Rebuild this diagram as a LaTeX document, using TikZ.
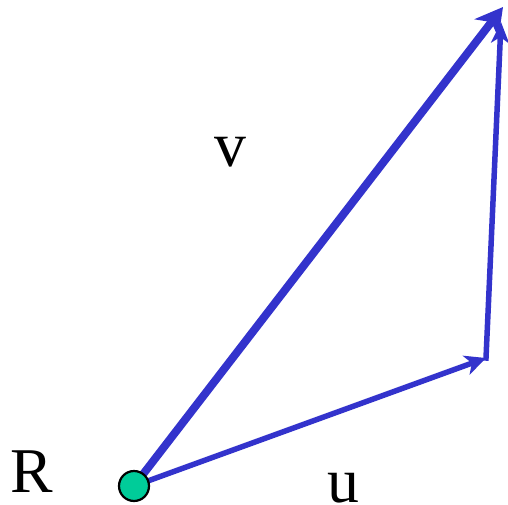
\documentclass[tikz,border=0pt]{standalone}
\usepackage{fontspec}
\setmainfont{Liberation Serif}
\usetikzlibrary{arrows.meta}
\definecolor{vecblue}{HTML}{3333CC}
\definecolor{ptgreen}{HTML}{00CC99}
\begin{document}
\begin{tikzpicture}[x=1bp,y=-1bp,
  vec/.style={draw=vecblue,line cap=butt},
  lbl/.style={font=\fontsize{64}{64}\selectfont,inner sep=0pt,anchor=center}]
\useasboundingbox (0,0) rectangle (508,505);
\coordinate (o) at (134,486);
\coordinate (c) at (486,358);
\coordinate (t1) at (503,7);
\coordinate (t2) at (501,22);
\draw[vec,line width=8bp,-{Stealth[length=27bp,width=30bp,inset=8bp]}] (o) -- (t1);
\draw[vec,line width=5.5bp,-{Stealth[length=21bp,width=20bp,inset=6bp]}] (o) -- (c);
\draw[vec,line width=5.5bp,line cap=rect,-{Stealth[length=21bp,width=18bp,inset=6bp]}] (c) -- (t2);
\node[circle,draw=black,line width=2.2bp,fill=ptgreen,minimum size=30bp,inner sep=0pt] (r) at (o) {};
\node[lbl] (lr) at (32,472) {R};
\node[lbl] (lu) at (343,488) {u};
\node[lbl] (lv) at (230,152) {v};
\end{tikzpicture}
\end{document}
